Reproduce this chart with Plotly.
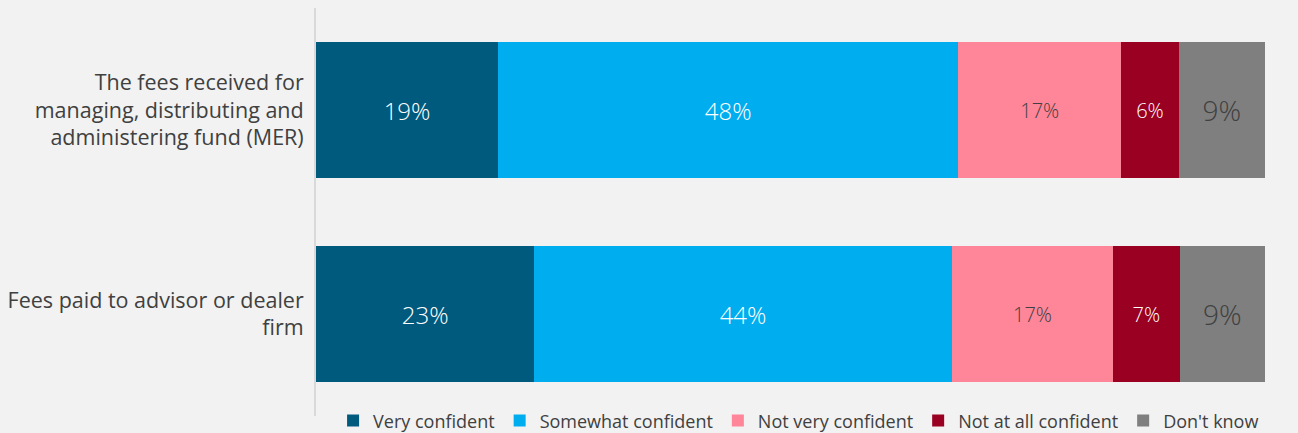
import plotly.graph_objects as go

categories = [
    "The fees received for<br>managing, distributing and<br>administering fund (MER)",
    "Fees paid to advisor or dealer<br>firm",
]
series_names = ["Very confident", "Somewhat confident", "Not very confident",
                "Not at all confident", "Don't know"]
very_confident = [19, 23]
somewhat_confident = [48, 44]
not_very_confident = [17, 17]
not_at_all_confident = [6, 7]
dont_know = [9, 9]

values = [very_confident, somewhat_confident, not_very_confident,
          not_at_all_confident, dont_know]
colors = ["#005a7e", "#00adee", "#ff8599", "#990021", "#7f7f7f"]
text_colors = ["#ffffff", "#ffffff", "#404040", "#ffffff", "#404040"]
text_sizes = [24, 24, 20, 20, 28]

FONT = "Open Sans"

fig = go.Figure()
for name, vals, col, tcol, tsz in zip(series_names, values, colors, text_colors, text_sizes):
    fig.add_trace(go.Bar(
        name=name,
        y=categories,
        x=vals,
        orientation="h",
        marker=dict(color=col, line=dict(width=0)),
        text=[f"{v}%" for v in vals],
        textposition="inside",
        insidetextanchor="middle",
        textangle=0,
        textfont=dict(family=FONT, size=tsz, color=tcol, weight=300),
        hoverinfo="skip",
    ))

fig.update_layout(
    barmode="stack",
    barnorm="percent",
    bargap=0.333,
    width=1298,
    height=433,
    margin=dict(l=316, r=33, t=8, b=17, autoexpand=False),
    paper_bgcolor="#f2f2f2",
    plot_bgcolor="#f2f2f2",
    font=dict(family=FONT, color="#404040"),
    showlegend=True,
    legend=dict(
        orientation="h",
        x=0.018,
        xanchor="left",
        y=-0.012,
        yanchor="middle",
        font=dict(family=FONT, size=18, color="#404040"),
        bgcolor="rgba(0,0,0,0)",
        itemwidth=30,
        traceorder="normal",
    ),
)
fig.update_xaxes(range=[0, 100], visible=False, showgrid=False, zeroline=False)
fig.update_yaxes(
    autorange="reversed",
    showgrid=False,
    zeroline=False,
    showline=True,
    linecolor="#d9d9d9",
    linewidth=2,
    ticks="",
    ticklabelstandoff=6,
    tickfont=dict(family=FONT, size=21.5, color="#404040"),
)

fig.write_html(
    "out.html",
    config={"displayModeBar": False},
    post_script="document.body.style.margin='0';document.body.style.padding='0';",
)
